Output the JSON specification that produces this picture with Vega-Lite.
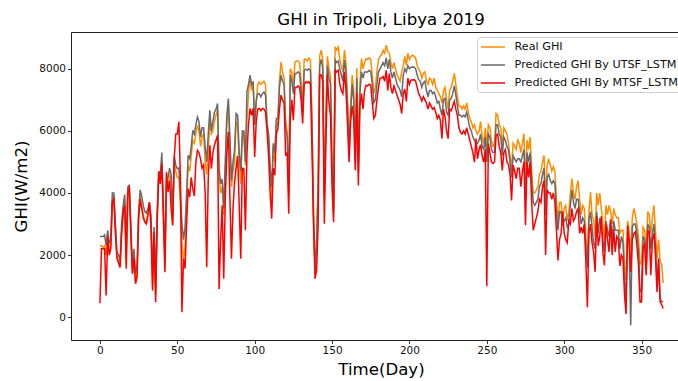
{
  "$schema": "https://vega.github.io/schema/vega-lite/v6.json",
  "usermeta": {"embedOptions": {"actions": false}},
  "autosize": {"type": "none"},
  "padding": {"left": 71, "top": 32, "right": 0, "bottom": 41},
  "width": 608,
  "height": 308,
  "title": {"text": "GHI in Tripoli, Libya 2019", "font": "DejaVu Sans", "fontSize": 16.6, "fontWeight": "normal", "color": "#000", "anchor": "middle", "dx": 6, "dy": 17, "baseline": "alphabetic", "offset": 7.5},
  "config": {
    "view": {"stroke": "#222", "strokeWidth": 1},
    "axis": {"labelFont": "DejaVu Sans", "titleFont": "DejaVu Sans", "labelFontSize": 10.5, "titleFontSize": 16.6, "titleFontWeight": "normal", "labelColor": "#111", "titleColor": "#000", "tickColor": "#222", "tickSize": 3.5, "tickWidth": 0.9, "grid": false, "domain": false, "labelPadding": 2},
    "legend": {"labelFont": "DejaVu Sans", "labelFontSize": 11.2, "labelColor": "#111", "labelLimit": 0}
  },
  "data": {"values": [
{"d":0,"r":2300,"u":2600,"m":450},{"d":1,"r":2300,"u":2600,"m":2200},{"d":2,"r":2250,"u":2600,"m":2200},{"d":3,"r":2300,"u":2650,"m":2200},{"d":4,"r":2000,"u":2300,"m":700},
{"d":5,"r":2700,"u":2800,"m":2600},{"d":6,"r":2100,"u":2400,"m":2000},{"d":7,"r":2300,"u":2500,"m":2200},{"d":8,"r":3700,"u":4000,"m":3700},{"d":9,"r":3900,"u":4000,"m":3800},
{"d":10,"r":2800,"u":3000,"m":2700},{"d":11,"r":1900,"u":2100,"m":1900},{"d":12,"r":1800,"u":2000,"m":1750},{"d":13,"r":1600,"u":1800,"m":1600},{"d":14,"r":2700,"u":3000,"m":2700},
{"d":15,"r":3300,"u":3600,"m":3400},{"d":16,"r":3800,"u":3950,"m":3600},{"d":17,"r":1700,"u":2200,"m":1560},{"d":18,"r":3900,"u":4200,"m":4000},{"d":19,"r":4000,"u":4250,"m":4200},
{"d":20,"r":2700,"u":3000,"m":2600},{"d":21,"r":1400,"u":1600,"m":1400},{"d":22,"r":2000,"u":2200,"m":1900},{"d":23,"r":1100,"u":1400,"m":1075},{"d":24,"r":1400,"u":1700,"m":1300},
{"d":25,"r":3200,"u":3400,"m":3200},{"d":26,"r":3900,"u":4100,"m":3800},{"d":27,"r":3600,"u":3900,"m":3500},{"d":28,"r":3300,"u":3600,"m":3200},{"d":29,"r":3100,"u":3400,"m":3060},
{"d":30,"r":3050,"u":3350,"m":3000},{"d":31,"r":3300,"u":3500,"m":3300},{"d":32,"r":3600,"u":3700,"m":3700},{"d":33,"r":3000,"u":3300,"m":2900},{"d":34,"r":1000,"u":1400,"m":860},
{"d":35,"r":2700,"u":2900,"m":2740},{"d":36,"r":700,"u":1000,"m":480},{"d":37,"r":3200,"u":3400,"m":3100},{"d":38,"r":4500,"u":4700,"m":4680},{"d":39,"r":4300,"u":4600,"m":4300},
{"d":40,"r":5000,"u":5300,"m":4950},{"d":41,"r":3300,"u":3600,"m":3200},{"d":42,"r":1600,"u":2000,"m":1450},{"d":43,"r":4300,"u":4500,"m":4680},{"d":44,"r":4200,"u":4500,"m":4030},
{"d":45,"r":4600,"u":4800,"m":4400},{"d":46,"r":4400,"u":4600,"m":3500},{"d":47,"r":3000,"u":3300,"m":2950},{"d":48,"r":5000,"u":5200,"m":5100},{"d":49,"r":4700,"u":4900,"m":5900},
{"d":50,"r":4500,"u":4780,"m":5900},{"d":51,"r":4500,"u":4800,"m":6290},{"d":52,"r":3600,"u":4000,"m":4500},{"d":53,"r":2400,"u":3000,"m":160},{"d":54,"r":1800,"u":2500,"m":1880},
{"d":55,"r":2300,"u":2900,"m":1560},{"d":56,"r":3600,"u":4000,"m":3000},{"d":57,"r":4890,"u":5210,"m":4140},{"d":58,"r":4700,"u":5100,"m":3870},{"d":59,"r":5200,"u":5500,"m":4500},
{"d":60,"r":5700,"u":6020,"m":4140},{"d":61,"r":5600,"u":5900,"m":3900},{"d":62,"r":5900,"u":6200,"m":5000},{"d":63,"r":6180,"u":6450,"m":5375},{"d":64,"r":6000,"u":6300,"m":5300},
{"d":65,"r":5500,"u":5800,"m":5100},{"d":66,"r":5800,"u":6100,"m":4800},{"d":67,"r":5900,"u":6100,"m":4900},{"d":68,"r":5000,"u":5500,"m":4000},{"d":69,"r":4600,"u":5000,"m":1610},
{"d":70,"r":5400,"u":5900,"m":4500},{"d":71,"r":6400,"u":6665,"m":5540},{"d":72,"r":5900,"u":6000,"m":4780},{"d":73,"r":6000,"u":6300,"m":5300},{"d":74,"r":6300,"u":6600,"m":5540},
{"d":75,"r":6500,"u":6700,"m":5700},{"d":76,"r":6700,"u":6880,"m":5860},{"d":77,"r":4500,"u":4780,"m":910},{"d":78,"r":4000,"u":4300,"m":2500},{"d":79,"r":4200,"u":4450,"m":3600},
{"d":80,"r":3300,"u":3500,"m":1240},{"d":81,"r":4800,"u":5000,"m":3800},{"d":82,"r":6200,"u":6500,"m":5300},{"d":83,"r":6800,"u":7040,"m":5970},{"d":84,"r":5400,"u":5800,"m":3800},
{"d":85,"r":4200,"u":4400,"m":1880},{"d":86,"r":4700,"u":5000,"m":3500},{"d":87,"r":5000,"u":5400,"m":4350},{"d":88,"r":6300,"u":6560,"m":4800},{"d":89,"r":6200,"u":6500,"m":5200},
{"d":90,"r":5000,"u":5300,"m":3600},{"d":91,"r":4300,"u":4700,"m":1880},{"d":92,"r":5800,"u":6000,"m":4800},{"d":93,"r":5900,"u":6000,"m":4780},{"d":94,"r":4900,"u":5000,"m":2800},
{"d":95,"r":6300,"u":7260,"m":5270},{"d":96,"r":7200,"u":7500,"m":6200},{"d":97,"r":7700,"u":7800,"m":6720},{"d":98,"r":7300,"u":7500,"m":6500},{"d":99,"r":7500,"u":7600,"m":6720},
{"d":100,"r":6200,"u":6200,"m":5160},{"d":101,"r":6900,"u":7000,"m":6300},{"d":102,"r":7500,"u":7200,"m":6700},{"d":103,"r":7580,"u":7200,"m":6720},{"d":104,"r":7500,"u":7100,"m":6650},
{"d":105,"r":7550,"u":7200,"m":6720},{"d":106,"r":7600,"u":7250,"m":6700},{"d":107,"r":7500,"u":7150,"m":6600},{"d":108,"r":6100,"u":6250,"m":5970},{"d":109,"r":5800,"u":5900,"m":5200},
{"d":110,"r":4500,"u":4800,"m":4000},{"d":111,"r":3700,"u":4200,"m":3170},{"d":112,"r":5500,"u":5600,"m":4800},{"d":113,"r":5000,"u":5300,"m":4570},{"d":114,"r":6200,"u":6400,"m":5900},
{"d":115,"r":6200,"u":6400,"m":6070},{"d":116,"r":7600,"u":7400,"m":6700},{"d":117,"r":8220,"u":7800,"m":7150},{"d":118,"r":7900,"u":7600,"m":7000},{"d":119,"r":7700,"u":7500,"m":6900},
{"d":120,"r":6300,"u":6100,"m":5200},{"d":121,"r":6000,"u":5800,"m":5300},{"d":122,"r":4000,"u":4300,"m":3330},{"d":123,"r":8000,"u":7800,"m":6400},{"d":124,"r":7900,"u":7600,"m":7000},
{"d":125,"r":7500,"u":7200,"m":6340},{"d":126,"r":8200,"u":7850,"m":7400},{"d":127,"r":8250,"u":7850,"m":7400},{"d":128,"r":8250,"u":7900,"m":7450},{"d":129,"r":8200,"u":7850,"m":7400},
{"d":130,"r":7600,"u":7300,"m":7000},{"d":131,"r":6900,"u":6600,"m":6240},{"d":132,"r":8300,"u":7950,"m":7500},{"d":133,"r":8310,"u":7990,"m":7580},{"d":134,"r":8250,"u":7950,"m":7550},
{"d":135,"r":8350,"u":8000,"m":7580},{"d":136,"r":8300,"u":7950,"m":7500},{"d":137,"r":6500,"u":6300,"m":5500},{"d":138,"r":3500,"u":3300,"m":3000},{"d":139,"r":1500,"u":1500,"m":1240},
{"d":140,"r":2500,"u":2300,"m":1500},{"d":141,"r":4500,"u":4200,"m":2960},{"d":142,"r":8400,"u":8100,"m":7800},{"d":143,"r":8600,"u":8300,"m":7800},{"d":144,"r":8300,"u":8000,"m":7600},
{"d":145,"r":4000,"u":3800,"m":3010},{"d":146,"r":6500,"u":6300,"m":5500},{"d":147,"r":8400,"u":8100,"m":7800},{"d":148,"r":8000,"u":7700,"m":6900},{"d":149,"r":7800,"u":7500,"m":6500},
{"d":150,"r":5000,"u":4800,"m":4200},{"d":151,"r":3500,"u":3300,"m":3060},{"d":152,"r":8710,"u":8280,"m":7950},{"d":153,"r":8600,"u":8200,"m":7900},{"d":154,"r":8700,"u":8250,"m":7950},
{"d":155,"r":8300,"u":8000,"m":7500},{"d":156,"r":8100,"u":7800,"m":7300},{"d":157,"r":7900,"u":7600,"m":7200},{"d":158,"r":8600,"u":8280,"m":7900},{"d":159,"r":8200,"u":7900,"m":7300},
{"d":160,"r":7000,"u":6800,"m":6200},{"d":161,"r":5500,"u":5300,"m":4990},{"d":162,"r":6800,"u":6600,"m":6300},{"d":163,"r":7800,"u":7500,"m":6800},{"d":164,"r":7300,"u":7000,"m":6400},
{"d":165,"r":5200,"u":5000,"m":4730},{"d":166,"r":8020,"u":7700,"m":7200},{"d":167,"r":5000,"u":4700,"m":4240},{"d":168,"r":7500,"u":7200,"m":6800},{"d":169,"r":8330,"u":7900,"m":7200},
{"d":170,"r":8000,"u":7700,"m":6700},{"d":171,"r":8200,"u":7900,"m":7300},{"d":172,"r":8330,"u":7900,"m":7470},{"d":173,"r":8300,"u":7900,"m":7450},{"d":174,"r":8350,"u":7950,"m":7500},
{"d":175,"r":8300,"u":7900,"m":7470},{"d":176,"r":7800,"u":7500,"m":6900},{"d":177,"r":7200,"u":6900,"m":6400},{"d":178,"r":7400,"u":7000,"m":6500},{"d":179,"r":7900,"u":7500,"m":7000},
{"d":180,"r":8300,"u":7900,"m":7400},{"d":181,"r":8400,"u":8000,"m":7690},{"d":182,"r":8450,"u":8100,"m":7700},{"d":183,"r":8600,"u":8200,"m":7750},{"d":184,"r":8500,"u":8100,"m":7600},
{"d":185,"r":8760,"u":8350,"m":7950},{"d":186,"r":8550,"u":8000,"m":7300},{"d":187,"r":8500,"u":8300,"m":7850},{"d":188,"r":8200,"u":7900,"m":7400},{"d":189,"r":8000,"u":7700,"m":7200},
{"d":190,"r":8200,"u":7900,"m":7450},{"d":191,"r":8000,"u":7700,"m":7300},{"d":192,"r":7800,"u":7500,"m":7150},{"d":193,"r":7700,"u":7400,"m":7000},{"d":194,"r":7600,"u":7300,"m":6850},
{"d":195,"r":7900,"u":7100,"m":6560},{"d":196,"r":8100,"u":7800,"m":7200},{"d":197,"r":8400,"u":8000,"m":7350},{"d":198,"r":8100,"u":7900,"m":6950},{"d":199,"r":8500,"u":8100,"m":7700},
{"d":200,"r":8300,"u":8000,"m":7500},{"d":201,"r":8400,"u":8050,"m":7640},{"d":202,"r":8440,"u":8060,"m":7640},{"d":203,"r":8400,"u":8050,"m":7650},{"d":204,"r":8350,"u":8000,"m":7600},
{"d":205,"r":8100,"u":7800,"m":7400},{"d":206,"r":7980,"u":7650,"m":7200},{"d":207,"r":7900,"u":7600,"m":7100},{"d":208,"r":7700,"u":7400,"m":6960},{"d":209,"r":7850,"u":7550,"m":7100},
{"d":210,"r":7900,"u":7600,"m":7000},{"d":211,"r":7600,"u":7300,"m":6900},{"d":212,"r":7500,"u":7100,"m":6700},{"d":213,"r":7700,"u":7300,"m":6900},{"d":214,"r":7650,"u":7300,"m":6800},
{"d":215,"r":7500,"u":7200,"m":6700},{"d":216,"r":7700,"u":7250,"m":6750},{"d":217,"r":7400,"u":7100,"m":6600},{"d":218,"r":7300,"u":6900,"m":6400},{"d":219,"r":7200,"u":6950,"m":6500},
{"d":220,"r":7100,"u":6700,"m":6340},{"d":221,"r":6900,"u":6500,"m":5750},{"d":222,"r":7300,"u":7000,"m":6700},{"d":223,"r":7400,"u":7050,"m":6450},{"d":224,"r":7000,"u":6600,"m":6000},
{"d":225,"r":6700,"u":6500,"m":5750},{"d":226,"r":7300,"u":7000,"m":6700},{"d":227,"r":7400,"u":7050,"m":6650},{"d":228,"r":7600,"u":7200,"m":6800},{"d":229,"r":7850,"u":7450,"m":6950},
{"d":230,"r":7500,"u":7150,"m":6700},{"d":231,"r":7100,"u":6800,"m":6500},{"d":232,"r":6800,"u":6500,"m":6100},{"d":233,"r":6800,"u":6500,"m":5950},{"d":234,"r":6700,"u":6450,"m":5900},
{"d":235,"r":6800,"u":6500,"m":6000},{"d":236,"r":6700,"u":6450,"m":5900},{"d":237,"r":6900,"u":6600,"m":6100},{"d":238,"r":6600,"u":6350,"m":5900},{"d":239,"r":6400,"u":6100,"m":5700},
{"d":240,"r":6300,"u":6000,"m":5500},{"d":241,"r":6100,"u":5800,"m":5300},{"d":242,"r":6200,"u":5700,"m":4990},{"d":243,"r":6000,"u":5600,"m":5750},{"d":244,"r":5900,"u":5600,"m":5100},
{"d":245,"r":6000,"u":5700,"m":5400},{"d":246,"r":6300,"u":5900,"m":5550},{"d":247,"r":5800,"u":5500,"m":5200},{"d":248,"r":5600,"u":5400,"m":4990},{"d":249,"r":6100,"u":5800,"m":5400},
{"d":250,"r":5500,"u":5000,"m":1000},{"d":251,"r":6200,"u":5900,"m":5600},{"d":252,"r":6100,"u":5800,"m":5300},{"d":253,"r":5700,"u":5400,"m":5000},{"d":254,"r":5500,"u":5300,"m":4950},
{"d":255,"r":5600,"u":5300,"m":5000},{"d":256,"r":6560,"u":6200,"m":5850},{"d":257,"r":6500,"u":6200,"m":5900},{"d":258,"r":6200,"u":5900,"m":5500},{"d":259,"r":6100,"u":5800,"m":5300},
{"d":260,"r":5500,"u":5200,"m":4730},{"d":261,"r":6100,"u":5800,"m":5300},{"d":262,"r":6000,"u":5700,"m":5400},{"d":263,"r":5900,"u":5500,"m":5000},{"d":264,"r":5600,"u":5400,"m":4920},
{"d":265,"r":5200,"u":5000,"m":4600},{"d":266,"r":4800,"u":4500,"m":3760},{"d":267,"r":5600,"u":5200,"m":4900},{"d":268,"r":5500,"u":5100,"m":4700},{"d":269,"r":5400,"u":5000,"m":4460},
{"d":270,"r":5700,"u":5100,"m":4800},{"d":271,"r":5600,"u":5100,"m":4800},{"d":272,"r":5300,"u":5000,"m":4200},{"d":273,"r":5600,"u":5200,"m":4700},{"d":274,"r":5910,"u":5400,"m":5000},
{"d":275,"r":4300,"u":3900,"m":2960},{"d":276,"r":5700,"u":5300,"m":5000},{"d":277,"r":5400,"u":5000,"m":4500},{"d":278,"r":5800,"u":5300,"m":5000},{"d":279,"r":4700,"u":4400,"m":3700},
{"d":280,"r":4000,"u":3700,"m":2800},{"d":281,"r":4000,"u":3600,"m":3000},{"d":282,"r":4100,"u":3700,"m":3200},{"d":283,"r":4200,"u":3800,"m":3400},{"d":284,"r":4600,"u":4200,"m":3800},
{"d":285,"r":4700,"u":4300,"m":3700},{"d":286,"r":5000,"u":4600,"m":4200},{"d":287,"r":5210,"u":4800,"m":4400},{"d":288,"r":3700,"u":3300,"m":2000},{"d":289,"r":4900,"u":4500,"m":4100},
{"d":290,"r":5100,"u":4600,"m":4000},{"d":291,"r":4900,"u":4400,"m":4000},{"d":292,"r":4700,"u":4300,"m":3800},{"d":293,"r":4850,"u":4400,"m":4000},{"d":294,"r":4700,"u":4300,"m":3700},
{"d":295,"r":3800,"u":3400,"m":2800},{"d":296,"r":3100,"u":2800,"m":1830},{"d":297,"r":3700,"u":3400,"m":2500},{"d":298,"r":3700,"u":3400,"m":2700},{"d":299,"r":3100,"u":3000,"m":3400},
{"d":300,"r":3500,"u":3100,"m":2700},{"d":301,"r":3600,"u":3200,"m":2500},{"d":302,"r":3100,"u":2900,"m":2400},{"d":303,"r":3400,"u":3000,"m":3100},{"d":304,"r":4000,"u":3600,"m":3000},
{"d":305,"r":4460,"u":4100,"m":3500},{"d":306,"r":4000,"u":3700,"m":3100},{"d":307,"r":3800,"u":3500,"m":3200},{"d":308,"r":4200,"u":3800,"m":3400},{"d":309,"r":4400,"u":3800,"m":3500},
{"d":310,"r":3800,"u":3400,"m":2700},{"d":311,"r":3300,"u":3000,"m":2900},{"d":312,"r":3600,"u":3200,"m":2700},{"d":313,"r":3500,"u":3100,"m":3000},{"d":314,"r":2600,"u":2300,"m":1800},
{"d":315,"r":1900,"u":1600,"m":320},{"d":316,"r":3400,"u":3100,"m":2700},{"d":317,"r":4030,"u":3400,"m":3000},{"d":318,"r":3300,"u":2900,"m":2400},{"d":319,"r":3100,"u":2400,"m":2100},
{"d":320,"r":2600,"u":2200,"m":1460},{"d":321,"r":4000,"u":3400,"m":3250},{"d":322,"r":3600,"u":2700,"m":2300},{"d":323,"r":4000,"u":3200,"m":2600},{"d":324,"r":3500,"u":3000,"m":3250},
{"d":325,"r":3000,"u":2500,"m":2100},{"d":326,"r":2500,"u":2100,"m":1670},{"d":327,"r":3600,"u":3100,"m":3000},{"d":328,"r":3300,"u":2800,"m":2500},{"d":329,"r":3600,"u":2600,"m":2100},
{"d":330,"r":3400,"u":3100,"m":3150},{"d":331,"r":3000,"u":2500,"m":2000},{"d":332,"r":3500,"u":3100,"m":2850},{"d":333,"r":3300,"u":2800,"m":2100},{"d":334,"r":3200,"u":2800,"m":2600},
{"d":335,"r":3200,"u":2800,"m":2500},{"d":336,"r":2700,"u":2200,"m":1650},{"d":337,"r":2800,"u":2600,"m":2000},{"d":338,"r":2800,"u":2400,"m":1900},{"d":339,"r":1700,"u":1200,"m":700},
{"d":340,"r":1200,"u":600,"m":100},{"d":341,"r":3100,"u":2700,"m":2960},{"d":342,"r":2800,"u":2500,"m":2400},{"d":343,"r":1900,"u":-260,"m":1460},{"d":344,"r":3200,"u":2900,"m":2500},
{"d":345,"r":3500,"u":3000,"m":2700},{"d":346,"r":3300,"u":3000,"m":2750},{"d":347,"r":3000,"u":2700,"m":2300},{"d":348,"r":2600,"u":2200,"m":1700},{"d":349,"r":1700,"u":800,"m":490},
{"d":350,"r":1800,"u":900,"m":490},{"d":351,"r":2900,"u":2600,"m":2200},{"d":352,"r":2800,"u":2500,"m":2400},{"d":353,"r":2100,"u":1500,"m":1350},{"d":354,"r":3400,"u":3000,"m":2800},
{"d":355,"r":3300,"u":2900,"m":2700},{"d":356,"r":2700,"u":2200,"m":1350},{"d":357,"r":3200,"u":2700,"m":2500},{"d":358,"r":3600,"u":3000,"m":2700},{"d":359,"r":2800,"u":2300,"m":2000},
{"d":360,"r":1900,"u":1000,"m":810},{"d":361,"r":2500,"u":1800,"m":1900},{"d":362,"r":1800,"u":600,"m":500},{"d":363,"r":1700,"u":500,"m":400},{"d":364,"r":1100,"u":500,"m":280}
  ]},
  "encoding": {
    "x": {"field": "d", "type": "quantitative", "scale": {"domain": [-18.7, 374.2], "nice": false, "zero": false}, "axis": {"values": [0, 50, 100, 150, 200, 250, 300, 350], "format": "d", "title": "Time(Day)", "titlePadding": 5, "titleX": 310, "titleAnchor": "middle"}}
  },
  "layer": [
    {"mark": {"type": "line", "strokeWidth": 1.5}, "encoding": {
      "y": {"field": "r", "type": "quantitative", "scale": {"domain": [-735, 9185], "nice": false, "zero": false}, "axis": {"values": [0, 2000, 4000, 6000, 8000], "format": "d", "title": "GHI(W/m2)", "titlePadding": 9.5}},
      "color": {"datum": "Real GHI", "type": "nominal", "scale": {"domain": ["Real GHI", "Predicted GHI By UTSF_LSTM", "Predicted GHI By MTSF_LSTM"], "range": ["#ff8c00", "#696969", "#ff0000"]},
        "legend": {"title": null, "orient": "none", "legendX": 406, "legendY": 5, "symbolType": "M-2,0H2", "symbolSize": 144, "symbolStrokeWidth": 1.5, "symbolOffset": 6, "labelOffset": 14.6, "labelLimit": 0, "rowPadding": 5, "padding": 3, "fillColor": "rgba(255,255,255,0.8)", "strokeColor": "#cccccc", "cornerRadius": 3}}
    }},
    {"mark": {"type": "line", "strokeWidth": 1.5}, "encoding": {
      "y": {"field": "u", "type": "quantitative", "title": "GHI(W/m2)"},
      "color": {"datum": "Predicted GHI By UTSF_LSTM", "type": "nominal"}
    }},
    {"mark": {"type": "line", "strokeWidth": 1.5}, "encoding": {
      "y": {"field": "m", "type": "quantitative", "title": "GHI(W/m2)"},
      "color": {"datum": "Predicted GHI By MTSF_LSTM", "type": "nominal"}
    }}
  ]
}
